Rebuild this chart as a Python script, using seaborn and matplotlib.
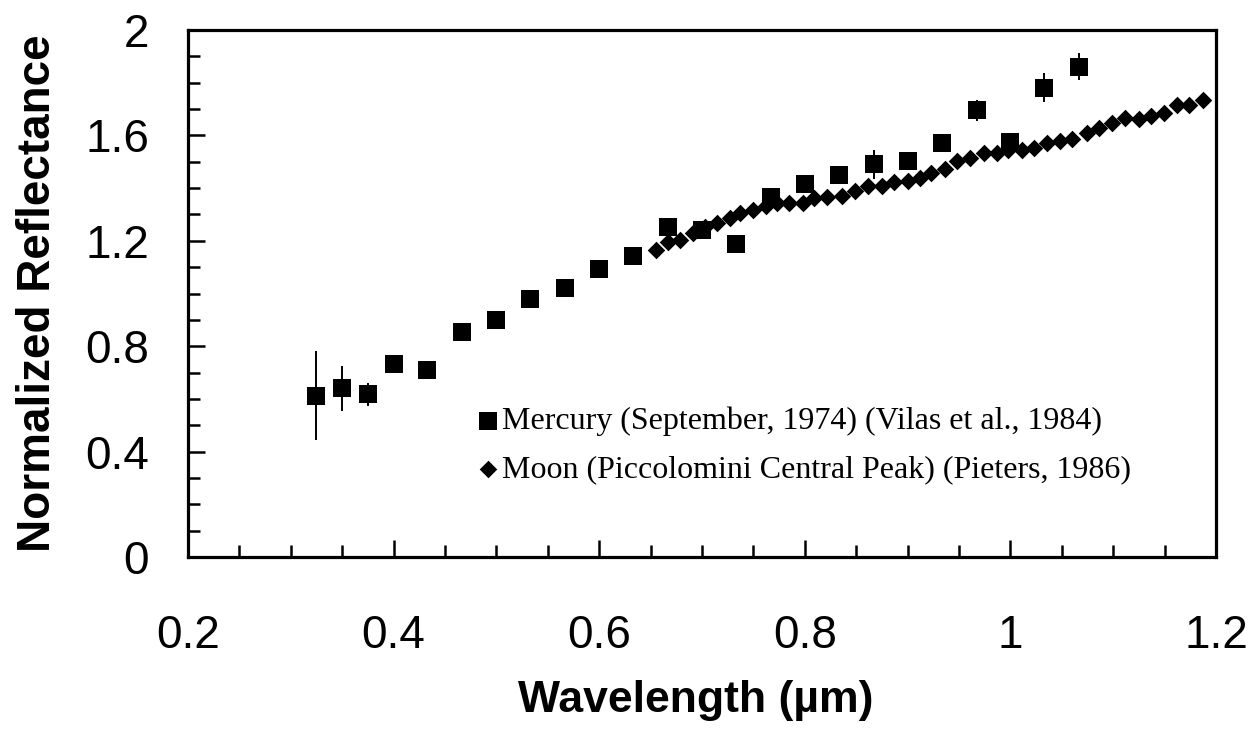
import numpy as np
import pandas as pd
import seaborn as sns
import matplotlib.pyplot as plt
from matplotlib.ticker import MultipleLocator

# Mercury spectrum (squares with error bars)
mercury_wl = [0.325, 0.35, 0.375, 0.4, 0.433, 0.467, 0.5, 0.533, 0.567, 0.6,
              0.633, 0.667, 0.7, 0.733, 0.767, 0.8, 0.833, 0.867, 0.9, 0.933,
              0.967, 1.0, 1.033, 1.067]
mercury_refl = [0.613, 0.640, 0.617, 0.731, 0.711, 0.854, 0.901, 0.978, 1.021, 1.092,
                1.144, 1.252, 1.241, 1.188, 1.367, 1.414, 1.448, 1.490, 1.502, 1.573,
                1.696, 1.576, 1.781, 1.861]
mercury_err = [0.167, 0.085, 0.045, 0.03, 0, 0, 0, 0, 0, 0,
               0, 0, 0, 0, 0, 0, 0, 0.055, 0.03, 0,
               0.04, 0, 0.055, 0.05]

# Moon spectrum (diamonds)
moon_wl = [0.655, 0.667, 0.679, 0.691, 0.703, 0.715, 0.727, 0.737, 0.750, 0.762,
           0.773, 0.785, 0.798, 0.809, 0.822, 0.836, 0.849, 0.861, 0.875, 0.887,
           0.900, 0.912, 0.923, 0.936, 0.948, 0.961, 0.974, 0.987, 0.998, 1.011,
           1.023, 1.036, 1.048, 1.060, 1.074, 1.086, 1.099, 1.111, 1.125, 1.137,
           1.149, 1.162, 1.174, 1.187]
moon_refl = [1.164, 1.196, 1.205, 1.230, 1.253, 1.266, 1.285, 1.304, 1.316, 1.331,
             1.342, 1.342, 1.344, 1.361, 1.365, 1.369, 1.390, 1.407, 1.407, 1.424,
             1.426, 1.437, 1.459, 1.471, 1.504, 1.513, 1.534, 1.532, 1.544, 1.544,
             1.554, 1.573, 1.580, 1.585, 1.610, 1.627, 1.646, 1.665, 1.661, 1.673,
             1.686, 1.715, 1.715, 1.734]

mercury_label = 'Mercury (September, 1974) (Vilas et al., 1984)'
moon_label = 'Moon (Piccolomini Central Peak) (Pieters, 1986)'

sns.set_style('ticks')
plt.rcParams['font.family'] = ['Liberation Sans', 'DejaVu Sans']

fig, ax = plt.subplots(figsize=(12.48, 7.34), dpi=100)
fig.subplots_adjust(left=0.1506, right=0.9744, top=0.9591, bottom=0.2411)

ax.errorbar(mercury_wl, mercury_refl, yerr=mercury_err, fmt='none',
            ecolor='black', elinewidth=1.4, capsize=0, zorder=2)
sns.scatterplot(x=mercury_wl, y=mercury_refl, marker='s', s=150, color='black',
                linewidth=0, ax=ax, label=mercury_label, zorder=3)
sns.scatterplot(x=moon_wl, y=moon_refl, marker='D', s=80, color='black',
                linewidth=0, ax=ax, label=moon_label, zorder=3)

ax.set_xlim(0.2, 1.2)
ax.set_ylim(0, 2)
ax.xaxis.set_major_locator(MultipleLocator(0.2))
ax.xaxis.set_minor_locator(MultipleLocator(0.05))
ax.yaxis.set_major_locator(MultipleLocator(0.4))
ax.yaxis.set_minor_locator(MultipleLocator(0.1))
ax.xaxis.set_major_formatter(lambda v, p: f'{v:g}')
ax.yaxis.set_major_formatter(lambda v, p: f'{v:g}')

for s in ax.spines.values():
    s.set_linewidth(2.3)
    s.set_color('black')
ax.tick_params(which='both', direction='in', top=False, right=False,
               width=1.8, color='black', labelsize=33, labelcolor='black')
ax.tick_params(which='major', length=12)
ax.tick_params(which='minor', length=8.5)
ax.tick_params(axis='x', which='major', pad=41)
ax.tick_params(axis='y', which='major', pad=28)

ax.set_xlabel('Wavelength (µm)', fontsize=32, fontweight='bold', color='black')
ax.xaxis.set_label_coords(0.494, -0.234)
ax.set_ylabel('Normalized Reflectance', fontsize=33, fontweight='bold', color='black', labelpad=18)

leg = ax.legend(loc='center left', bbox_to_anchor=(0.279, 0.212), frameon=False,
                prop={'family': 'Liberation Serif', 'size': 23},
                handlelength=0.8, handletextpad=0.05, labelspacing=0.58,
                borderpad=0, borderaxespad=0)
for t in leg.get_texts():
    t.set_color('black')

fig.savefig('out.png', dpi=100)
